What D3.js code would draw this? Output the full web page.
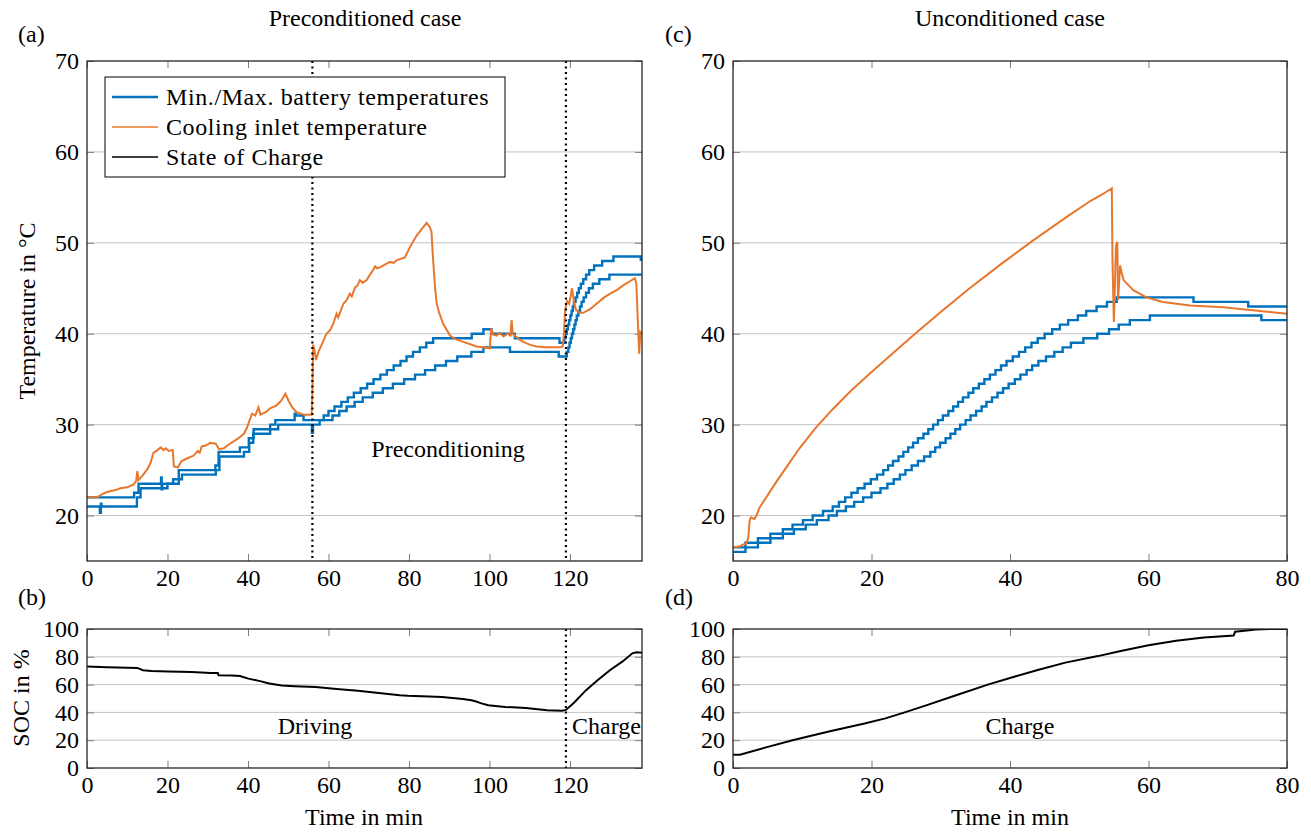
<!DOCTYPE html>
<html lang="en">
<head>
<meta charset="UTF-8">
<title>Battery temperatures and SOC</title>
<script src="https://cdn.jsdelivr.net/npm/d3@7"></script>
<style>
  body { margin: 0; background: #fff; }
</style>
</head>
<body>
<svg id="chart" width="1311" height="832"></svg>
<script>
// ---- data: [time in min, value] ----

// (a) preconditioned case, battery max / min temperature (step data)
const maxTempPre = [[0,22],[11.7,22.5],[12.8,23.5],[18.4,24.2],[18.55,22.9],[18.7,23.5],[21.4,24],[22.8,25],[31.9,25.5],[32.7,27],[38,27.5],[40.2,28.5],[41.4,29.5],[45.5,30],[46.8,30.5],[51.6,31.2],[51.9,31],[53.8,30.5],[58.8,31],[60,31.5],[61.5,32],[63.2,32.5],[64.8,33],[66.3,33.5],[68,34],[69.6,34.5],[71.2,35],[72.9,35.5],[74.5,36],[76.2,36.5],[77.9,37],[79.4,37.5],[81,38],[82.7,38.5],[84.3,39],[86,39.5],[95.6,40],[98.5,40.5],[100.5,40],[106.3,39.5],[117.4,39],[118.6,39.5],[118.9,40],[119.2,40.5],[119.5,41],[119.8,41.5],[120.1,42],[120.4,42.5],[120.7,43],[121,43.5],[121.4,44],[121.8,44.5],[122.2,45],[122.7,45.5],[123.3,46],[124,46.5],[124.8,47],[126,47.5],[128,48],[130.8,48.5],[137.6,48]];
const minTempPre = [[0,21],[3.2,20.3],[3.45,21.3],[3.6,21],[12.4,22],[13.3,23],[20,23.5],[22.8,24],[23.6,24.5],[32,25],[32.9,26.5],[39,27],[40.3,28],[41.3,29],[45.5,29.5],[47.5,30],[55.9,29.1],[56.15,30],[57.8,30.5],[61,31],[62.7,31.5],[64.5,32],[66.5,32.5],[68.5,33],[71,33.5],[73.5,34],[76,34.5],[78.8,35],[81.5,35.5],[84,36],[86.5,36.5],[89.2,37],[92,37.5],[95.5,38],[98.5,38.5],[105.1,38],[117.2,37.5],[119.2,38],[119.6,38.5],[119.9,39],[120.2,39.5],[120.5,40],[120.8,40.5],[121.1,41],[121.4,41.5],[121.7,42],[122.1,42.5],[122.5,43],[122.9,43.5],[123.4,44],[124,44.5],[124.7,45],[125.7,45.5],[127.3,46],[129.8,46.5],[137.9,46.5]];
// (a) cooling inlet temperature
const inletPre = [[0,22.1],[1,22],[2.5,22],[4,22.4],[5,22.6],[7,22.8],[8.3,23],[10,23.1],[11.5,23.4],[12.2,23.8],[12.5,24.9],[12.8,23.9],[14,24.5],[15,25.1],[15.8,25.8],[16.5,26.9],[17.5,27.2],[18.3,27.5],[19,27.2],[19.6,27.4],[20.3,27.1],[21.3,27.2],[21.6,25.4],[22.6,25.3],[23.5,26],[25,26.3],[26.5,26.6],[27.5,27.1],[28,26.9],[28.5,27.6],[29.5,27.7],[30.6,28],[32,27.9],[32.8,27.3],[34,27.4],[35.5,27.9],[37.3,28.4],[39,29],[39.7,29.6],[40.5,30.6],[41,31.2],[41.8,31],[42.6,31.9],[43.1,31.1],[44.5,31.4],[45.5,31.8],[47,32.1],[48.2,32.6],[49.3,33.4],[50.1,32.6],[51,31.9],[52,31.4],[53.8,31.1],[55.8,31.1],[56,33.5],[56.2,38.8],[56.5,38.3],[56.9,37.1],[57.5,38],[58.5,39],[59.5,40],[60.4,40.4],[61.2,41.1],[62,42.2],[62.4,41.8],[63.1,42.6],[63.7,43.3],[64.5,43.7],[65.3,44.4],[65.8,44.1],[66.6,45.1],[67.2,45.3],[67.8,45.9],[68.5,45.6],[69.5,45.9],[70.3,46.5],[71.1,47],[71.6,47.4],[72.1,47.2],[72.8,47.3],[74,47.6],[75.3,47.9],[76.2,47.8],[77,48.1],[79,48.4],[80.2,49.5],[81.9,50.8],[83.6,51.75],[84.4,52.2],[85.2,51.7],[85.6,51.2],[86,48.1],[86.5,45],[86.9,43.3],[87.5,42.3],[88.5,41.1],[90.2,39.8],[91.5,39.4],[93.5,39.1],[96.8,38.6],[100.1,38.4],[100.4,40.6],[101,39.9],[101.8,39.8],[102.5,40.1],[103.5,39.7],[104.5,40],[105.2,39.8],[105.5,41.5],[105.8,40],[106.3,39.8],[107.3,39.4],[108.4,39.1],[110,38.8],[111.7,38.6],[114,38.5],[117.5,38.5],[118.2,38.6],[118.5,40],[118.8,42.6],[119.3,43.6],[119.8,43.3],[120.2,44.2],[120.5,45],[121,43.5],[121.5,42.6],[122.5,42.3],[123.3,42.3],[125,42.7],[126.6,43.3],[128.5,44],[130,44.4],[131.6,44.8],[133.5,45.4],[135,45.8],[136.1,46.1],[136.5,45.5],[136.9,41],[137.2,37.8],[137.5,40.2],[137.9,40]];
// (b) state of charge, preconditioned case
const socPre = [[0,73],[5,72.5],[12.5,72],[13.9,70.3],[16,69.8],[20.2,69.5],[26,69],[30.7,68.3],[32.5,68.3],[32.7,66.8],[36,66.6],[38,66.2],[40.1,64.3],[43,62.5],[45.3,60.8],[48.4,59.3],[51.6,58.8],[56.8,58.3],[62,56.9],[67.3,55.6],[72.5,54],[77.7,52.4],[79.7,52],[85,51.5],[88.2,51],[93.4,49.6],[95.5,48.8],[96.5,48],[98,46.5],[99.7,45.1],[103.9,43.9],[109.1,43.2],[114.3,41.5],[118,41.2],[119,41.8],[121,47],[124,56],[127,63.5],[130,70.5],[133,76.5],[135.5,82.5],[136.5,83.3],[137.9,83]];

// (c) unconditioned case, battery max / min temperature (step data)
const maxTempUnc = [[0,16.5],[1.8,17],[3.6,17.5],[5.4,18],[7.2,18.5],[8.6,19],[10.1,19.5],[11.5,20],[13,20.5],[14.4,21],[15.3,21.5],[16.2,22],[17.1,22.5],[18,23],[19,23.5],[19.9,24],[20.8,24.5],[21.7,25],[22.4,25.5],[23.1,26],[23.9,26.5],[24.6,27],[25.3,27.5],[26,28],[26.7,28.5],[27.5,29],[28.2,29.5],[28.9,30],[29.6,30.5],[30.3,31],[31.1,31.5],[31.8,32],[32.5,32.5],[33.2,33],[34,33.5],[34.7,34],[35.5,34.5],[36.3,35],[37.1,35.5],[37.9,36],[38.7,36.5],[39.5,37],[40.4,37.5],[41.3,38],[42.2,38.5],[43.1,39],[44,39.5],[45,40],[46.1,40.5],[47.2,41],[48.4,41.5],[49.8,42],[51,42.5],[52.5,43],[54,43.5],[55.4,44],[66.5,43.5],[74.4,43],[80,43]];
const minTempUnc = [[0,16],[1.8,16.5],[3.6,17],[5.4,17.5],[7.2,18],[8.8,18.5],[10.5,19],[12.1,19.5],[13.8,20],[15,20.5],[16.3,21],[17.5,21.5],[18.8,22],[20,22.5],[21.3,23],[22.3,23.5],[23.2,24],[24.1,24.5],[24.9,25],[25.8,25.5],[26.7,26],[27.6,26.5],[28.5,27],[29.2,27.5],[29.9,28],[30.7,28.5],[31.4,29],[32.1,29.5],[32.8,30],[33.6,30.5],[34.3,31],[35.1,31.5],[35.9,32],[36.6,32.5],[37.4,33],[38.2,33.5],[39,34],[39.8,34.5],[40.7,35],[41.5,35.5],[42.4,36],[43.2,36.5],[44.1,37],[45.2,37.5],[46.4,38],[47.6,38.5],[48.8,39],[50.6,39.5],[52.6,40],[54.3,40.5],[55.7,41],[57.3,41.5],[60.2,42],[76.3,41.5],[80,41.5]];
// (c) cooling inlet temperature
const inletUnc = [[0,16.5],[1,16.6],[1.4,16.8],[1.9,16.9],[2.2,17.5],[2.4,19.45],[2.6,19.8],[3.1,19.6],[3.5,20.2],[3.85,20.9],[4.8,22],[6.25,23.7],[7.7,25.3],[9.6,27.4],[12,29.7],[14.4,31.7],[17,33.7],[20,35.8],[23,37.8],[26,39.8],[30,42.4],[34,44.9],[38.6,47.6],[43.4,50.3],[48.2,52.85],[51.6,54.6],[53.5,55.4],[54.7,56],[54.8,48],[55,41.3],[55.3,49.6],[55.5,50.1],[55.6,43.7],[55.9,47.5],[56.1,46.8],[56.4,45.9],[57.8,44.8],[59.7,44],[62.1,43.5],[66,43.1],[70.8,42.9],[74.7,42.6],[80,42.2]];
// (d) state of charge, unconditioned case
const socUnc = [[0,9.5],[1,9.5],[4.5,14.5],[8.6,20],[14,26.5],[19,32],[22,35.7],[24.8,40],[28,45.2],[32,52],[36.8,60],[40,64.8],[44,70.5],[48,75.8],[52.7,80.5],[56,84.2],[60,88.3],[64,91.5],[68,93.9],[72.3,95.3],[72.5,98],[75.5,99.6],[77.5,100],[80,100]];

// axes and labels
const tempTicks = [20, 30, 40, 50, 60, 70];
const socTicks = [0, 20, 40, 60, 80, 100];
const timeTicksPre = [0, 20, 40, 60, 80, 100, 120];
const timeTicksUnc = [0, 20, 40, 60, 80];
const phaseLines = [56, 119];
const legendItems = ["Min./Max. battery temperatures", "Cooling inlet temperature", "State of Charge"];

const BLUE = "#0072bd", ORANGE = "#e8772e";
const FONT = 24;
const SERIF = "'Liberation Serif', 'DejaVu Serif', serif";
const svg = d3.select("#chart");

function panel(id, box, xDomain, yDomain, xTicks, yTicks) {
  const x = d3.scaleLinear().domain(xDomain).range([box.x0, box.x1]);
  const y = d3.scaleLinear().domain(yDomain).range([box.y1, box.y0]);
  const g = svg.append("g");

  g.append("clipPath").attr("id", id)
    .append("rect")
    .attr("x", box.x0).attr("y", box.y0)
    .attr("width", box.x1 - box.x0).attr("height", box.y1 - box.y0);

  // horizontal grid
  g.selectAll(".grid")
    .data(yTicks.filter(v => v > yDomain[0] && v < yDomain[1]))
    .enter().append("line")
    .attr("x1", box.x0).attr("x2", box.x1)
    .attr("y1", d => y(d)).attr("y2", d => y(d))
    .attr("stroke", "#c4c4c4").attr("stroke-width", 1);

  const axes = [
    [d3.axisBottom(x).tickValues(xTicks), `translate(0,${box.y1})`, true],
    [d3.axisTop(x).tickValues(xTicks), `translate(0,${box.y0})`, false],
    [d3.axisLeft(y).tickValues(yTicks), `translate(${box.x0},0)`, true],
    [d3.axisRight(y).tickValues(yTicks), `translate(${box.x1},0)`, false]
  ];
  axes.forEach(([ax, tr, labels]) => {
    ax.tickSizeInner(-7).tickSizeOuter(0).tickPadding(8);
    if (!labels) ax.tickFormat("");
    const a = g.append("g").attr("transform", tr).call(ax)
      .attr("font-family", SERIF).attr("font-size", FONT);
    a.select(".domain").remove();
    a.selectAll(".tick line").attr("stroke", "#7d7d7d").attr("stroke-width", 1);
    a.selectAll(".tick text").attr("font-family", SERIF).attr("fill", "#000");
  });

  const plot = g.append("g").attr("clip-path", `url(#${id})`);
  return { x, y, g, plot, box };
}

function frame(p) {
  p.g.append("rect")
    .attr("x", p.box.x0).attr("y", p.box.y0)
    .attr("width", p.box.x1 - p.box.x0).attr("height", p.box.y1 - p.box.y0)
    .attr("fill", "none").attr("stroke", "#262626").attr("stroke-width", 1.3);
}

function draw(p, data, color, width, step) {
  const line = d3.line()
    .x(d => p.x(d[0])).y(d => p.y(d[1]))
    .curve(step ? d3.curveStepAfter : d3.curveLinear);
  p.plot.append("path").datum(data)
    .attr("d", line)
    .attr("fill", "none").attr("stroke", color)
    .attr("stroke-width", width).attr("stroke-linejoin", "miter");
}

function dotted(p, t) {
  p.plot.append("line")
    .attr("x1", p.x(t)).attr("x2", p.x(t))
    .attr("y1", p.box.y0).attr("y2", p.box.y1)
    .attr("stroke", "#000").attr("stroke-width", 2.2)
    .attr("stroke-dasharray", "2,3.5");
}

function label(txt, x, y, anchor, rotate) {
  const t = svg.append("text").text(txt)
    .attr("font-family", SERIF).attr("font-size", FONT)
    .attr("text-anchor", anchor || "middle");
  if (rotate) t.attr("transform", `translate(${x},${y}) rotate(-90)`);
  else t.attr("x", x).attr("y", y);
  return t;
}

// panels
const pA = panel("clipA", { x0: 87, x1: 642, y0: 61, y1: 561 }, [0, 137.9], [15, 70], timeTicksPre, tempTicks);
const pC = panel("clipC", { x0: 733, x1: 1287, y0: 61, y1: 561 }, [0, 80], [15, 70], timeTicksUnc, tempTicks);
const pB = panel("clipB", { x0: 87, x1: 642, y0: 629, y1: 768 }, [0, 137.9], [0, 100], timeTicksPre, socTicks);
const pD = panel("clipD", { x0: 733, x1: 1287, y0: 629, y1: 768 }, [0, 80], [0, 100], timeTicksUnc, socTicks);

draw(pA, minTempPre, BLUE, 2.4, true);
draw(pA, maxTempPre, BLUE, 2.4, true);
draw(pA, inletPre, ORANGE, 2, false);
phaseLines.forEach(t => dotted(pA, t));

draw(pC, minTempUnc, BLUE, 2.4, true);
draw(pC, maxTempUnc, BLUE, 2.4, true);
draw(pC, inletUnc, ORANGE, 2, false);

draw(pB, socPre, "#000", 2, false);
dotted(pB, phaseLines[1]);
draw(pD, socUnc, "#000", 2, false);

[pA, pB, pC, pD].forEach(frame);

// legend
const lg = svg.append("g");
lg.append("rect").attr("x", 105).attr("y", 77).attr("width", 400).attr("height", 100)
  .attr("fill", "#fff").attr("stroke", "#000").attr("stroke-width", 1);
const legendStyles = [[BLUE, 2.4], [ORANGE, 1.6], ["#000", 1.3]];
legendItems.forEach((txt, i) => {
  const cy = 97 + i * 30;
  lg.append("line").attr("x1", 112).attr("x2", 158).attr("y1", cy).attr("y2", cy)
    .attr("stroke", legendStyles[i][0]).attr("stroke-width", legendStyles[i][1]);
  lg.append("text").text(txt).attr("x", 166).attr("y", cy).attr("dy", "0.33em")
    .attr("font-family", SERIF).attr("font-size", FONT)
    .attr("letter-spacing", 0.6);
});

// titles and labels
label("Preconditioned case", 365, 26);
label("Unconditioned case", 1010, 26);
label("(a)", 18, 42, "start");
label("(c)", 665, 42, "start");
label("(b)", 18, 605, "start");
label("(d)", 665, 605, "start");
label("Temperature in °C", 35, 311, "middle", true);
label("SOC in %", 29, 698, "middle", true);
label("Time in min", 364, 825);
label("Time in min", 1010, 825);
label("Preconditioning", 448, 457);
label("Driving", 315, 734);
label("Charge", 572, 734, "start");
label("Charge", 1020, 734);
</script>
</body>
</html>
